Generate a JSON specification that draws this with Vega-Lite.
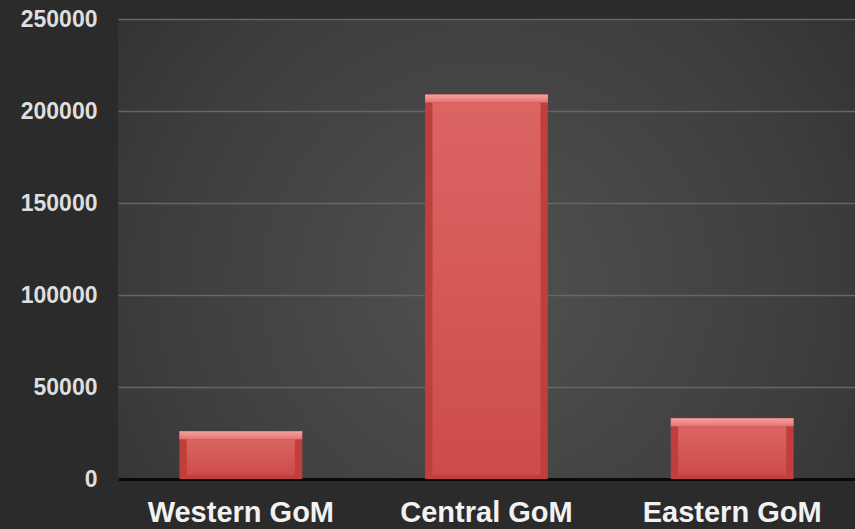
{
  "$schema": "https://vega.github.io/schema/vega-lite/v6.json",
  "width": 737,
  "height": 460,
  "autosize": {"type": "none"},
  "padding": {"left": 118, "top": 19, "right": 0, "bottom": 50},
  "background": "#2b2b2b",
  "view": {
    "stroke": null,
    "fill": {
      "gradient": "radial",
      "x1": 0.5, "y1": 0.55, "r1": 0,
      "x2": 0.5, "y2": 0.55, "r2": 0.75,
      "stops": [
        {"offset": 0, "color": "#515151"},
        {"offset": 0.6, "color": "#3d3d3d"},
        {"offset": 1, "color": "#2b2b2b"}
      ]
    }
  },
  "data": {
    "values": [
      {"region": "Western GoM", "value": 26000},
      {"region": "Central GoM", "value": 209000},
      {"region": "Eastern GoM", "value": 33000}
    ]
  },
  "encoding": {
    "x": {
      "field": "region", "type": "nominal", "sort": null,
      "scale": {"paddingInner": 0.5, "paddingOuter": 0.25},
      "axis": {
        "title": null, "labelAngle": 0, "ticks": false, "labelLimit": 0,
        "domainColor": "#0a0a0a", "domainWidth": 3,
        "labelFont": "Liberation Sans", "labelFontWeight": "bold",
        "labelFontSize": 29, "labelColor": "#f2f2f2", "labelPadding": 19
      }
    },
    "y": {
      "field": "value", "type": "quantitative",
      "scale": {"domain": [0, 250000], "nice": false},
      "axis": {
        "title": null, "values": [0, 50000, 100000, 150000, 200000, 250000],
        "format": "d", "domain": false, "ticks": false,
        "gridColor": "#666666", "gridWidth": 1.5,
        "labelFont": "Liberation Sans", "labelFontWeight": "bold",
        "labelFontSize": 23, "labelColor": "#dedede", "labelPadding": 21
      }
    }
  },
  "layer": [
    {"mark": {"type": "bar", "width": {"band": 1}, "color": "#c03e3c"}},
    {
      "mark": {
        "type": "bar", "width": {"band": 1}, "y2Offset": 8,
        "color": {
          "x1": 0, "y1": 0, "x2": 0, "y2": 1, "gradient": "linear",
          "stops": [
            {"offset": 0, "color": "#f4a3a1"},
            {"offset": 1, "color": "#e57472"}
          ]
        }
      },
      "encoding": {"y2": {"field": "value"}}
    },
    {
      "mark": {
        "type": "bar", "width": {"band": 0.88}, "yOffset": 8, "y2Offset": -4,
        "color": {
          "x1": 0, "y1": 0, "x2": 0, "y2": 1, "gradient": "linear",
          "stops": [
            {"offset": 0, "color": "#db6563"},
            {"offset": 1, "color": "#cd4c4a"}
          ]
        }
      },
      "encoding": {"y2": {"datum": 0}}
    }
  ]
}
